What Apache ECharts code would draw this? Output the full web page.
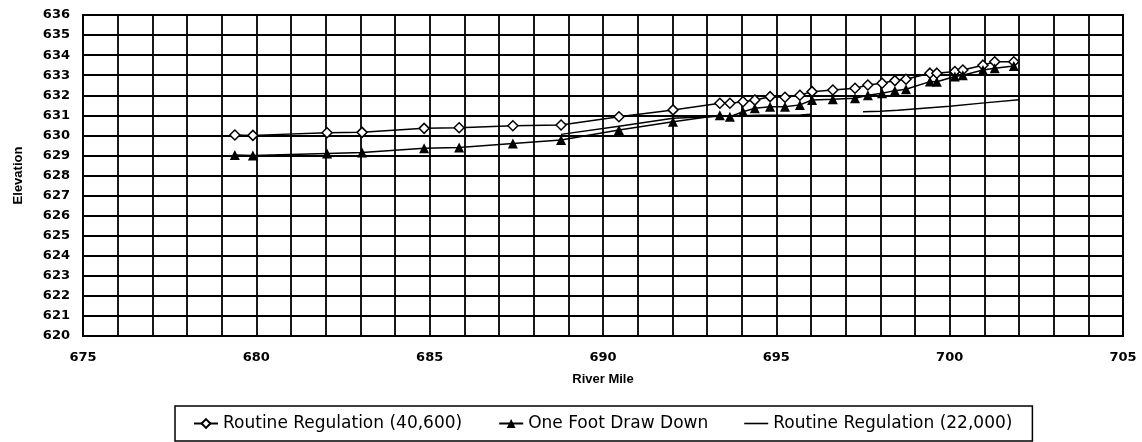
<!DOCTYPE html>
<html>
<head>
<meta charset="utf-8">
<script src="https://cdn.jsdelivr.net/npm/echarts@6/dist/echarts.min.js"></script>
<style>
  html, body { margin: 0; padding: 0; background: #fff; }
  #chart { width: 1142px; height: 442px; }
</style>
</head>
<body>
<div id="chart"></div>
<script>
// river mile stations shared by the two marked series
const riverMile = [679.38, 679.9, 682.04, 683.05, 684.84, 685.85, 687.4, 688.79, 690.46, 692.02,
  693.37, 693.66, 694.04, 694.38, 694.82, 695.25, 695.68, 696.03, 696.63, 697.27, 697.64,
  698.05, 698.42, 698.74, 699.43, 699.63, 700.15, 700.38, 700.96, 701.3, 701.85]
const routine40600 = [630.02, 630.0, 630.13, 630.15, 630.35, 630.38, 630.48, 630.52, 630.93, 631.27,
  631.6, 631.6, 631.68, 631.76, 631.93, 631.9, 632.0, 632.18, 632.26, 632.35, 632.51,
  632.6, 632.73, 632.8, 633.1, 633.1, 633.18, 633.26, 633.5, 633.67, 633.67]
const drawDown = [629.02, 629.0, 629.1, 629.15, 629.36, 629.4, 629.6, 629.77, 630.27, 630.68,
  631.0, 630.93, 631.18, 631.35, 631.43, 631.43, 631.52, 631.76, 631.8, 631.85, 632.0,
  632.1, 632.23, 632.3, 632.68, 632.67, 632.93, 633.0, 633.26, 633.34, 633.46]
// 22,000 cfs profile (no markers, gap between the two reaches)
const routine22000Mile = [688.79, 690.46, 692.02, 693.4, 694.5, 695.7, 696.0, 696.8, 697.5, 698.0, 698.5, 700.0, 701.0, 702.0]
const routine22000 = [630.05, 630.45, 630.85, 630.95, 631.0, 631.02, 631.05, null, 631.18, 631.2, 631.25, 631.45, 631.62, 631.78]

const seriesNames = ['Routine Regulation (40,600)', 'One Foot Draw Down', 'Routine Regulation (22,000)']

const zip = (xs, ys) => xs.map((x, i) => [x, ys[i]])

const chart = echarts.init(document.getElementById('chart'))
const tickFont = { color: '#000', fontFamily: 'DejaVu Sans', fontWeight: 'bold', fontSize: 13 }
const nameFont = { color: '#000', fontFamily: 'Liberation Sans, Arial, sans-serif', fontWeight: 'bold', fontSize: 13 }

chart.setOption({
  animation: false,
  grid: {
    left: 83,
    right: 19,
    top: 15,
    bottom: 106,
    show: true,
    borderColor: '#000',
    borderWidth: 2
  },
  legend: {
    bottom: 1,
    left: 175,
    itemGap: 36,
    itemWidth: 24,
    itemHeight: 11,
    symbolKeepAspect: true,
    padding: [9, 20, 9, 18],
    borderColor: '#000',
    borderWidth: 1.5,
    textStyle: { color: '#000', fontFamily: 'DejaVu Sans', fontSize: 17 },
    data: [
      { name: seriesNames[0] },
      { name: seriesNames[1] },
      { name: seriesNames[2], icon: 'path://M0,0H24V1.6H0Z' }
    ]
  },
  xAxis: {
    type: 'value',
    min: 675,
    max: 705,
    interval: 1,
    name: 'River Mile',
    nameLocation: 'middle',
    nameGap: 37,
    nameTextStyle: nameFont,
    axisLine: { lineStyle: { color: '#000', width: 2 } },
    axisTick: { show: false },
    axisLabel: Object.assign({}, tickFont, {
      margin: 15,
      formatter: v => (v % 5 === 0 ? String(v) : '')
    }),
    splitLine: { lineStyle: { color: '#000', width: 1.8 } }
  },
  yAxis: {
    type: 'value',
    min: 620,
    max: 636,
    interval: 1,
    name: 'Elevation',
    nameLocation: 'middle',
    nameGap: 58,
    nameTextStyle: nameFont,
    axisLine: { lineStyle: { color: '#000', width: 2 } },
    axisTick: { show: false },
    axisLabel: Object.assign({}, tickFont, { margin: 13 }),
    splitLine: { lineStyle: { color: '#000', width: 1.8 } }
  },
  series: [{
    name: seriesNames[0],
    type: 'line',
    data: zip(riverMile, routine40600),
    symbol: 'diamond',
    symbolSize: 10,
    itemStyle: { color: '#fff', borderColor: '#000', borderWidth: 1.5 },
    lineStyle: { color: '#000', width: 1.5 },
    z: 3
  }, {
    name: seriesNames[1],
    type: 'line',
    data: zip(riverMile, drawDown),
    symbol: 'triangle',
    symbolSize: 10,
    itemStyle: { color: '#000' },
    lineStyle: { color: '#000', width: 1.5 },
    z: 4
  }, {
    name: seriesNames[2],
    type: 'line',
    data: zip(routine22000Mile, routine22000),
    symbol: 'none',
    connectNulls: false,
    itemStyle: { color: '#000' },
    lineStyle: { color: '#000', width: 1.5 },
    z: 2
  }]
})
</script>
</body>
</html>
